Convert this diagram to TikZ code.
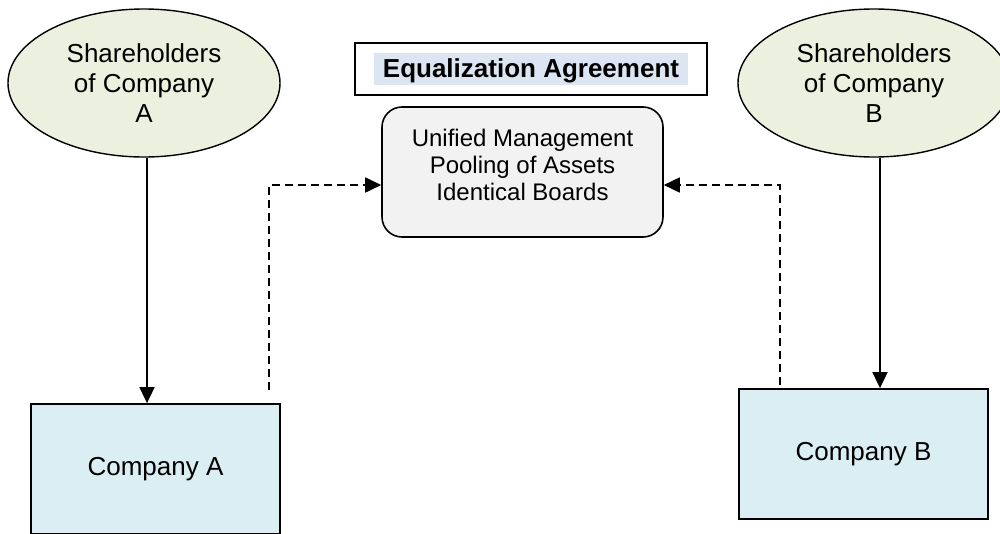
\documentclass[tikz,border=0pt]{standalone}
\usepackage{fontspec}
\setmainfont{Liberation Sans}
\usetikzlibrary{arrows.meta,shapes.geometric}
\definecolor{ellfill}{HTML}{EBF1DE}
\definecolor{compfill}{HTML}{DBEEF3}
\definecolor{midfill}{HTML}{F2F2F2}
\definecolor{hlfill}{HTML}{DCE6F2}
\begin{document}
\begin{tikzpicture}[x=1pt,y=-1pt,
  shell/.style={ellipse, draw, line width=1.4pt, fill=ellfill, minimum width=272pt, minimum height=148pt, align=center, font=\fontsize{26pt}{30pt}\selectfont, inner sep=0pt},
  compbox/.style={rectangle, draw, line width=1.8pt, fill=compfill, minimum width=249pt, minimum height=130pt, font=\fontsize{26pt}{30pt}\selectfont, inner sep=0pt},
  midbox/.style={rectangle, rounded corners=20pt, draw, line width=1.6pt, fill=midfill, minimum width=281pt, minimum height=130pt, align=center, font=\fontsize{24pt}{27pt}\selectfont, inner sep=0pt},
  eqbox/.style={rectangle, draw, line width=1.3pt, fill=white, minimum width=352pt, minimum height=52pt, inner sep=0pt, font=\bfseries\fontsize{26pt}{30pt}\selectfont},
  solidarrow/.style={line width=1.8pt, -{Triangle[length=16pt,width=15pt]}},
  dasharrow/.style={line width=1.8pt, dash pattern=on 8pt off 5pt, -{Triangle[length=16pt,width=15pt]}}
]
\useasboundingbox (0,0) rectangle (1000,533);
\node[shell] (shA) at (144,83) {Shareholders\\of Company\\A};
\node[shell] (shB) at (874,83) {Shareholders\\of Company\\B};
\node[compbox] (compA) at (155.5,469) {Company A};
\node[compbox] (compB) at (863.5,454) {Company B};
\node[eqbox] (eq) at (531,69) {\fboxsep=0pt\colorbox{hlfill}{\hspace*{8.5pt}\rule[-8pt]{0pt}{32pt}Equalization Agreement\hspace*{8.5pt}}};
\node[midbox, text depth=15pt] (mid) at (522.5,172) {Unified Management\\Pooling of Assets\\Identical Boards};
\coordinate (ax) at (147,0);
\coordinate (bx) at (880,0);
\coordinate (dA) at (269,390);
\coordinate (dB) at (780,385);
\draw[solidarrow] (shA.south -| ax) -- (compA.north -| ax);
\draw[solidarrow] (shB.south -| bx) -- (compB.north -| bx);
\draw[dasharrow] (dA) |- ([yshift=-13pt]mid.west);
\draw[dasharrow] (dB) |- ([yshift=-13pt]mid.east);
\end{tikzpicture}
\end{document}
